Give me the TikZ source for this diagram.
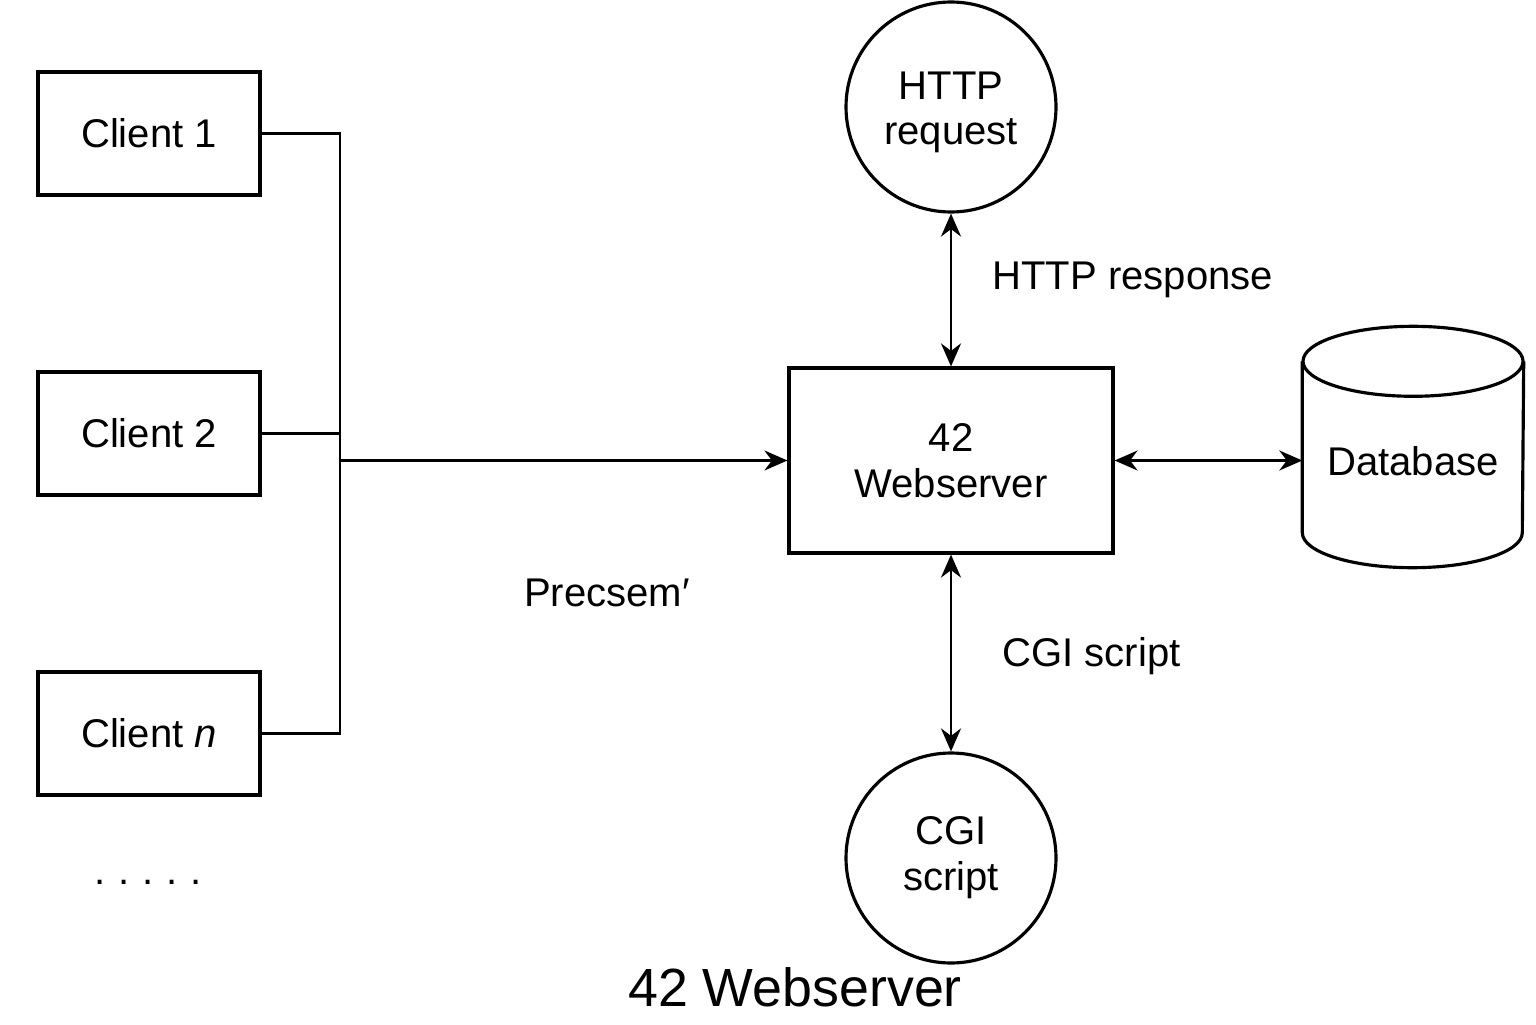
\documentclass[tikz,border=0pt]{standalone}
\usepackage{fontspec}
\setmainfont{Liberation Sans}
\usetikzlibrary{arrows.meta}
\begin{document}
\begin{tikzpicture}[
    box/.style={draw,line width=0.9pt,font=\fontsize{11.4}{13}\selectfont},
    ball/.style={draw,circle,line width=0.9pt,minimum size=2.1cm,align=center,font=\fontsize{11.4}{13}\selectfont},
    link/.style={line width=0.7pt},
    tip/.style={line width=0.7pt,{Stealth[length=2.3mm,width=2mm]}-{Stealth[length=2.3mm,width=2mm]}}]
    \useasboundingbox (0,0) rectangle (15.36,10.24);

    \node[box,minimum width=2.22cm,minimum height=1.23cm] (c1) at (1.49,8.905) {Client 1};
    \node[box,minimum width=2.22cm,minimum height=1.23cm] (c2) at (1.49,5.905) {Client 2};
    \node[box,minimum width=2.22cm,minimum height=1.23cm] (cn) at (1.49,2.905) {Client \textit{n}};
    \node[font=\fontsize{11.4}{13}\selectfont] (dots) at (1.48,1.42) {.\hspace{0.32em}.\hspace{0.32em}.\hspace{0.32em}.\hspace{0.32em}.};

    \node[box,minimum width=3.24cm,minimum height=1.85cm,align=center] (web) at (9.51,5.635) {42\\Webserver};
    \node[ball] (req) at (9.51,9.17) {\raisebox{-0.06cm}[\height][\depth]{\begin{tabular}{@{}c@{}}HTTP\\request\end{tabular}}};
    \node[ball] (cgi) at (9.51,1.66) {CGI\\script};
    % cylinder drawn by hand round an empty node
    \node[minimum width=2.2cm,minimum height=2.4cm,inner sep=0pt] (db) at (14.13,5.77) {};
    \draw[line width=0.9pt] ([yshift=-0.35cm]db.north west) -- ([yshift=0.35cm]db.south west)
        arc[start angle=180,end angle=360,x radius=1.1cm,y radius=0.35cm]
        -- ([yshift=-0.35cm]db.north east);
    \draw[line width=0.9pt] ([yshift=-0.35cm]db.north) ellipse[x radius=1.1cm,y radius=0.35cm];
    \node[font=\fontsize{11.4}{13}\selectfont] (dbtext) at (14.13,5.63) {Database};

    \node[font=\fontsize{11.4}{13}\selectfont,anchor=west] (resp) at (9.80,7.44) {HTTP response};
    \node[font=\fontsize{11.4}{13}\selectfont,anchor=west] (cgilabel) at (9.90,3.68) {CGI script};
    \node[font=\fontsize{11.4}{13}\selectfont] (prec) at (6.07,4.31) {Precsem′};
    \node[font=\fontsize{15.3}{18}\selectfont] (title) at (7.95,0.37) {42 Webserver};

    \coordinate (bus) at (3.4,0);
    \draw[link] (c1.east) -| (bus |- cn.east) -- (cn.east);
    \draw[link] (c2.east) -- (bus |- c2.east);
    \draw[link,-{Stealth[length=2.3mm,width=2mm]}] (bus |- web.west) -- (web.west);
    \draw[tip] (req.south) -- (web.north);
    \draw[tip] (web.south) -- (cgi.north);
    \draw[tip] (web.east) -- (web.east -| db.west);
\end{tikzpicture}
\end{document}
